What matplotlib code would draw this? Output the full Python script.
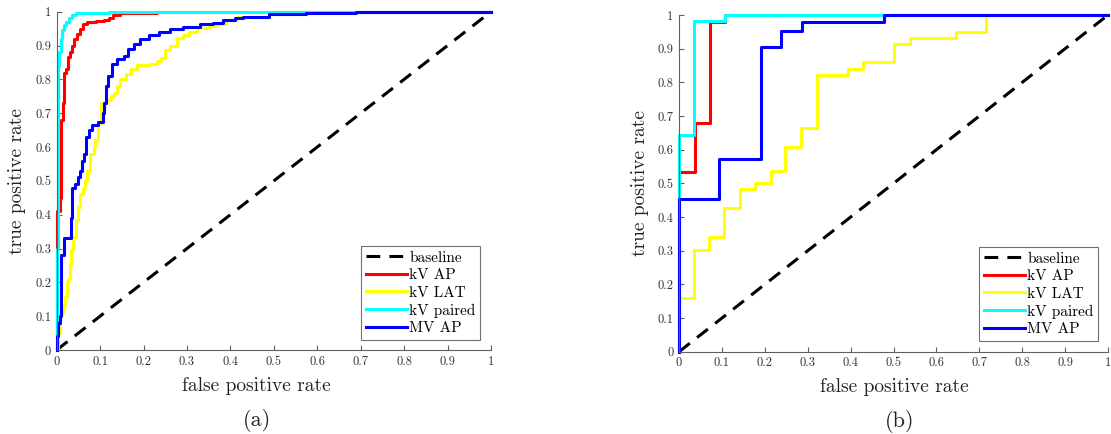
import matplotlib
matplotlib.use('Agg')
import matplotlib.pyplot as plt
from matplotlib.ticker import FixedLocator, FixedFormatter

plt.rcParams['font.family'] = ['cmr10', 'DejaVu Serif']
plt.rcParams['axes.formatter.use_mathtext'] = True

# ---- ROC data, panel (a) ----
a_ap_fpr = [0, 0, 0.008, 0.009, 0.011, 0.015, 0.018, 0.022, 0.026, 0.031, 0.036,
            0.040, 0.046, 0.053, 0.060, 0.070, 0.090, 0.110, 0.120, 0.130, 0.145,
            0.190, 0.230, 1]
a_ap_tpr = [0, 0.41, 0.45, 0.46, 0.68, 0.73, 0.82, 0.83, 0.865, 0.88, 0.90,
            0.92, 0.935, 0.95, 0.965, 0.97, 0.972, 0.975, 0.98, 0.99, 0.995,
            0.997, 1.0, 1.0]

a_lat_fpr = [0, 0.002, 0.008, 0.014, 0.019, 0.023, 0.027, 0.030, 0.034, 0.038,
             0.044, 0.050, 0.054, 0.060, 0.065, 0.070, 0.077, 0.085, 0.089, 0.096,
             0.101, 0.115, 0.125, 0.132, 0.140, 0.145, 0.160, 0.172, 0.184, 0.214,
             0.230, 0.240, 0.249, 0.262, 0.277, 0.290, 0.305, 0.323, 0.350, 0.369,
             0.390, 0.415, 0.490, 0.540, 0.610, 1]
a_lat_tpr = [0, 0.05, 0.108, 0.13, 0.157, 0.20, 0.21, 0.25, 0.296, 0.335,
             0.384, 0.424, 0.46, 0.48, 0.50, 0.53, 0.58, 0.60, 0.62, 0.67,
             0.73, 0.74, 0.75, 0.76, 0.78, 0.80, 0.815, 0.83, 0.842, 0.845,
             0.855, 0.862, 0.887, 0.90, 0.921, 0.93, 0.94, 0.951, 0.958, 0.963,
             0.975, 0.985, 0.993, 0.997, 1.0, 1.0]

a_pair_fpr = [0, 0, 0.001, 0.002, 0.003, 0.006, 0.009, 0.013, 0.017, 0.022,
              0.028, 0.035, 0.045, 0.070, 0.120, 1]
a_pair_tpr = [0, 0.04, 0.30, 0.45, 0.84, 0.88, 0.92, 0.945, 0.96, 0.97,
              0.98, 0.99, 0.995, 0.997, 1.0, 1.0]

a_mv_fpr = [0, 0, 0.004, 0.008, 0.011, 0.016, 0.032, 0.035, 0.042, 0.048,
            0.054, 0.059, 0.063, 0.068, 0.075, 0.082, 0.095, 0.106, 0.110, 0.113,
            0.118, 0.128, 0.140, 0.155, 0.165, 0.178, 0.192, 0.212, 0.235, 0.260,
            0.290, 0.330, 0.360, 0.383, 0.410, 0.430, 0.490, 0.575, 0.690, 0.840, 1]
a_mv_tpr = [0, 0.04, 0.08, 0.10, 0.28, 0.33, 0.39, 0.48, 0.49, 0.51,
            0.53, 0.56, 0.58, 0.63, 0.65, 0.665, 0.675, 0.70, 0.73, 0.78,
            0.81, 0.845, 0.86, 0.87, 0.89, 0.905, 0.92, 0.93, 0.94, 0.948,
            0.955, 0.963, 0.968, 0.975, 0.982, 0.985, 0.993, 0.997, 0.999, 1.0, 1.0]

# ---- ROC data, panel (b) ----
b_ap_fpr = [0, 0, 0.037, 0.0714, 0.107, 1]
b_ap_tpr = [0, 0.535, 0.678, 0.98, 1.0, 1.0]

b_lat_fpr = [0, 0, 0.0357, 0.0705, 0.105, 0.142, 0.178, 0.214, 0.248, 0.2845,
             0.321, 0.394, 0.4287, 0.501, 0.538, 0.646, 0.716, 1]
b_lat_tpr = [0, 0.16, 0.303, 0.34, 0.428, 0.482, 0.502, 0.537, 0.609, 0.663,
             0.823, 0.84, 0.86, 0.914, 0.931, 0.949, 1.0, 1.0]

b_pair_fpr = [0, 0, 0.0357, 0.107, 1]
b_pair_tpr = [0, 0.643, 0.982, 1.0, 1.0]

b_mv_fpr = [0, 0, 0.0938, 0.1907, 0.237, 0.286, 0.478, 1]
b_mv_tpr = [0, 0.4525, 0.571, 0.906, 0.9535, 0.978, 1.0, 1.0]

labels = ['baseline', 'kV AP', 'kV LAT', 'kV paired', 'MV AP']
colors = ['#ff0000', '#ffff00', '#00ffff', '#0000ff']
ticks = [0, 0.1, 0.2, 0.3, 0.4, 0.5, 0.6, 0.7, 0.8, 0.9, 1]
tick_labels = ['0', '0.1', '0.2', '0.3', '0.4', '0.5', '0.6', '0.7', '0.8', '0.9', '1']

panels = [
    dict(rect=[0.0510, 0.1935, 0.3909, 0.7795], tag='(a)',
         xlab_x=0.459, tag_x=0.461, leg=(0.975, 0.03),
         curves=[(a_ap_fpr, a_ap_tpr), (a_lat_fpr, a_lat_tpr),
                 (a_pair_fpr, a_pair_tpr), (a_mv_fpr, a_mv_tpr)]),
    dict(rect=[0.6112, 0.1896, 0.3861, 0.7758], tag='(b)',
         xlab_x=0.501, tag_x=0.515, leg=(0.977, 0.032),
         curves=[(b_ap_fpr, b_ap_tpr), (b_lat_fpr, b_lat_tpr),
                 (b_pair_fpr, b_pair_tpr), (b_mv_fpr, b_mv_tpr)]),
]

GRAY = '#606060'

fig = plt.figure(figsize=(11.11, 4.34), dpi=100)

for p in panels:
    ax = fig.add_axes(p['rect'])
    ax.plot([0, 1], [0, 1], color='black', lw=2.2, linestyle=(0, (4.5, 3)),
            label=labels[0], clip_on=False)
    for (fpr, tpr), c, lab in zip(p['curves'], colors, labels[1:]):
        ax.plot(fpr, tpr, color=c, lw=2.2, drawstyle='steps-post',
                label=lab, clip_on=False)

    ax.set_xlim(0, 1)
    ax.set_ylim(0, 1)
    for s in ('top', 'right'):
        ax.spines[s].set_visible(False)
    for s in ('left', 'bottom'):
        ax.spines[s].set_color(GRAY)
        ax.spines[s].set_linewidth(0.8)
    for axis in (ax.xaxis, ax.yaxis):
        axis.set_major_locator(FixedLocator(ticks))
        axis.set_major_formatter(FixedFormatter(tick_labels))
    ax.tick_params(direction='in', length=3.5, width=0.8, color=GRAY,
                   labelcolor='#333333', labelsize=9, pad=4)

    ax.set_xlabel('false positive rate', fontsize=14, color='#222222', va='center')
    ax.xaxis.set_label_coords(p['xlab_x'], -0.106)
    ax.set_ylabel('true positive rate', fontsize=14, color='#222222', va='center')
    ax.yaxis.set_label_coords(-0.091, 0.5)
    ax.text(p['tag_x'], -0.207, p['tag'], transform=ax.transAxes,
            ha='center', va='center', fontsize=16, color='#222222')

    leg = ax.legend(loc='lower right', bbox_to_anchor=p['leg'], borderaxespad=0,
                    fontsize=11, fancybox=False, framealpha=1,
                    edgecolor='#707070', handlelength=2.7, handletextpad=0.15,
                    labelspacing=0.25, borderpad=0.3)
    leg.get_frame().set_linewidth(0.8)

fig.savefig('out.png', dpi=100)
